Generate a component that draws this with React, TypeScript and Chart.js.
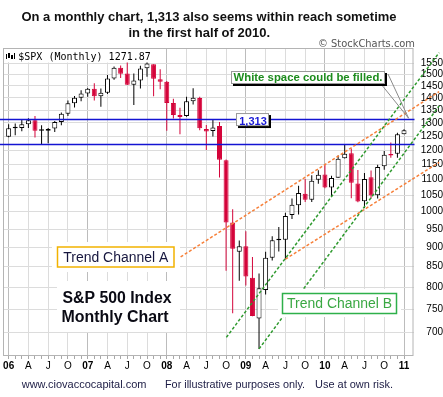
import { useEffect, useRef } from 'react';
import { Chart, registerables } from 'chart.js';

Chart.register(...registerables);

// ---- data (S&P 500 monthly candles, Jan 2006 .. Jan 2011) ----
const months = [
  '2006-01','2006-02','2006-03','2006-04','2006-05','2006-06','2006-07','2006-08','2006-09','2006-10','2006-11','2006-12',
  '2007-01','2007-02','2007-03','2007-04','2007-05','2007-06','2007-07','2007-08','2007-09','2007-10','2007-11','2007-12',
  '2008-01','2008-02','2008-03','2008-04','2008-05','2008-06','2008-07','2008-08','2008-09','2008-10','2008-11','2008-12',
  '2009-01','2009-02','2009-03','2009-04','2009-05','2009-06','2009-07','2009-08','2009-09','2009-10','2009-11','2009-12',
  '2010-01','2010-02','2010-03','2010-04','2010-05','2010-06','2010-07','2010-08','2010-09','2010-10','2010-11','2010-12',
  '2011-01',
];
const opens = [
  1248.29,1280.08,1280.66,1294.81,1310.61,1270.05,1270.06,1278.53,1303.80,1335.82,1377.76,1400.63,
  1418.03,1437.90,1406.80,1420.83,1482.37,1530.62,1504.66,1455.18,1473.96,1527.29,1545.79,1479.37,
  1467.97,1378.60,1330.45,1326.41,1385.97,1399.62,1276.69,1269.42,1287.83,1164.17,968.67,888.61,
  902.99,823.09,729.57,793.59,872.74,923.26,920.82,990.22,1019.52,1054.91,1036.18,1098.89,
  1116.56,1073.89,1105.36,1171.23,1188.58,1087.30,1031.10,1107.53,1049.72,1143.49,1185.71,1186.60,
  1257.62,
];
const highs = [
  1294.90,1297.57,1310.88,1318.16,1326.70,1290.68,1280.42,1307.53,1340.28,1389.45,1407.89,1431.81,
  1441.61,1461.57,1438.89,1498.02,1535.56,1540.56,1555.90,1503.89,1538.74,1576.09,1545.79,1523.57,
  1471.77,1396.02,1359.68,1404.19,1440.24,1404.05,1292.17,1313.15,1303.04,1167.03,1007.51,918.85,
  943.85,875.01,832.98,888.70,930.17,956.23,996.68,1039.47,1080.15,1101.36,1113.69,1130.38,
  1150.45,1112.42,1180.69,1219.80,1205.13,1131.23,1120.95,1129.24,1148.67,1196.14,1227.08,1262.60,
  1276.17,
];
const lows = [
  1245.74,1253.61,1268.42,1280.74,1245.34,1219.29,1224.54,1265.52,1290.93,1327.10,1360.98,1385.93,
  1403.97,1389.42,1363.98,1416.37,1476.70,1484.18,1454.25,1370.60,1439.29,1489.56,1406.10,1435.65,
  1270.05,1316.75,1256.98,1324.35,1373.07,1272.00,1200.44,1248.64,1106.42,839.80,741.02,815.69,
  804.30,734.52,666.79,783.32,866.10,888.86,869.32,978.51,991.97,1029.38,1029.38,1085.89,
  1071.59,1044.50,1105.36,1170.69,1040.78,1028.33,1010.91,1039.70,1039.70,1131.87,1173.00,1173.00,
  1257.62,
];
const closes = [
  1280.08,1280.66,1294.83,1310.61,1270.09,1270.20,1276.66,1303.82,1335.85,1377.94,1400.63,1418.30,
  1438.24,1406.82,1420.86,1482.37,1530.62,1503.35,1455.27,1473.99,1526.75,1549.38,1481.14,1468.36,
  1378.55,1330.63,1322.70,1385.59,1400.38,1280.00,1267.38,1282.83,1166.36,968.75,896.24,903.25,
  825.88,735.09,797.87,872.81,919.14,919.32,987.48,1020.62,1057.08,1036.19,1095.63,1115.10,
  1073.87,1104.49,1169.43,1186.69,1089.41,1030.71,1101.60,1049.33,1141.20,1183.26,1180.55,1257.64,
  1271.87,
];
const priorClose = 1248.29;

const priceTicks = [700,750,800,850,900,950,1000,1050,1100,1150,1200,1250,1300,1350,1400,1450,1500,1550];
const yearLabels = ['06','07','08','09','10','11'];
const quarterLabels = ['', 'A', 'J', 'O'];

// horizontal levels
const levels = [1313, 1219.8];
// trend channels: [startMonthIndex, startValue, endMonthIndex, endValue]
const channelA = [
  [26.1, 875, 65.33, 1426],
  [42, 869.32, 65.33, 1157],
];
const channelB = [
  [33.04, 690, 65.33, 1600],
  [38, 666.79, 65.33, 1367],
];
const calloutTarget = [60.7, 1318];

const titleLines = ['On a monthly chart, 1,313 also seems within reach sometime', 'in the first half of 2010.'];
const symbolLabel = '$SPX (Monthly) 1271.87';
const creditLabel = '\u00A9 StockCharts.com';
const footerParts = ['www.ciovaccocapital.com', 'For illustrative purposes only.', 'Use at own risk.'];
const levelLabel = '1,313';
const calloutLabel = 'White space could be filled.';
const channelALabel = 'Trend Channel A';
const channelBLabel = 'Trend Channel B';
const indexLabel = ['S&P 500 Index', 'Monthly Chart'];

// ---- styling ----
const RED = '#d4043a';
const BLACK = '#000000';
const SANS = '"Liberation Sans", Arial, sans-serif';

const upColor = closes.map((c, i) => c >= (i === 0 ? priorClose : closes[i - 1]));
const strokeCols = upColor.map((u) => (u ? BLACK : RED));
const fillCols = closes.map((c, i) => (c >= opens[i] ? '#ffffff' : strokeCols[i]));

function shadowBox(ctx: CanvasRenderingContext2D, x: number, y: number, w: number, h: number, border: string) {
  ctx.fillStyle = '#000';
  ctx.fillRect(x + 2, y + 2, w, h);
  ctx.fillStyle = '#fff';
  ctx.fillRect(x, y, w, h);
  ctx.strokeStyle = border;
  ctx.lineWidth = 1;
  ctx.strokeRect(x + 0.5, y + 0.5, w - 1, h - 1);
}

function fitText(ctx: CanvasRenderingContext2D, text: string, x: number, y: number, width: number) {
  ctx.fillText(text, x, y, width);
}

const overlay = {
  id: 'overlay',
  afterDraw(chart: any) {
    const ctx: CanvasRenderingContext2D = chart.ctx;
    const xs = chart.scales.x;
    const ys = chart.scales.y;
    const { left, right, top, bottom } = chart.chartArea;
    const px = (v: number) => xs.getPixelForValue(v);
    const py = (v: number) => ys.getPixelForValue(v);
    ctx.save();

    // frame
    ctx.strokeStyle = '#b4b4b4';
    ctx.lineWidth = 1;
    ctx.strokeRect(left + 0.5, top + 0.5, right - left - 1, bottom - top - 1);

    // horizontal levels
    ctx.strokeStyle = '#1414d2';
    ctx.lineWidth = 1.6;
    levels.forEach((v) => {
      const y = py(v);
      ctx.beginPath();
      ctx.moveTo(0, y);
      ctx.lineTo(right + 1, y);
      ctx.stroke();
    });

    // trend channels
    ctx.lineWidth = 1.5;
    ctx.setLineDash([3, 2]);
    const seg = (s: number[]) => {
      ctx.beginPath();
      ctx.moveTo(px(s[0]), py(s[1]));
      ctx.lineTo(px(s[2]), py(s[3]));
      ctx.stroke();
    };
    ctx.strokeStyle = '#f7803a';
    channelA.forEach(seg);
    ctx.strokeStyle = '#2f9a2f';
    channelB.forEach(seg);
    ctx.setLineDash([]);

    // callout pointer lines
    const tx = px(calloutTarget[0]);
    const ty = py(calloutTarget[1]);
    ctx.strokeStyle = '#8a8a8a';
    ctx.lineWidth = 1;
    ctx.beginPath();
    ctx.moveTo(381, 84);
    ctx.lineTo(tx, ty);
    ctx.moveTo(388, 74);
    ctx.lineTo(tx, ty);
    ctx.stroke();

    // white backgrounds behind labels
    ctx.fillStyle = '#ffffff';
    ctx.fillRect(4, 49, 152, 13.5);
    ctx.fillRect(52, 242, 128, 30);
    ctx.fillRect(57, 281, 123, 51);
    ctx.fillRect(278, 289, 123, 28);

    // symbol label
    ctx.fillStyle = '#000';
    ctx.fillRect(6, 54, 1, 5);
    ctx.fillRect(8, 53, 2, 5);
    ctx.fillRect(11, 55, 2, 4);
    ctx.fillRect(14, 53, 1, 6);
    ctx.font = '10px "DejaVu Sans Mono", monospace';
    ctx.textAlign = 'left';
    ctx.textBaseline = 'alphabetic';
    ctx.fillText(symbolLabel, 18.3, 60);

    // 1,313 box
    const yc = py(levels[0]);
    shadowBox(ctx, 236, yc - 6.5, 33, 13, '#9a9a9a');
    ctx.fillStyle = '#1a1ad6';
    ctx.font = `bold 11px ${SANS}`;
    ctx.textAlign = 'center';
    ctx.fillText(levelLabel, 253, yc + 5);

    // white space callout box
    shadowBox(ctx, 231, 71, 154, 13, '#9a9a9a');
    ctx.fillStyle = '#1d8c1d';
    ctx.font = `bold 11.5px ${SANS}`;
    fitText(ctx, calloutLabel, 308, 81.3, 149);

    // trend channel A
    ctx.strokeStyle = '#f2b200';
    ctx.lineWidth = 1.5;
    ctx.strokeRect(57.5, 247, 116.5, 20);
    ctx.fillStyle = '#16163e';
    ctx.font = `14px ${SANS}`;
    fitText(ctx, channelALabel, 115.8, 262, 105);

    // S&P label
    ctx.fillStyle = '#0a0a14';
    ctx.font = `bold 16px ${SANS}`;
    fitText(ctx, indexLabel[0], 117, 303.3, 109);
    fitText(ctx, indexLabel[1], 115, 321.5, 107);

    // trend channel B
    ctx.strokeStyle = '#2eb04a';
    ctx.lineWidth = 1.5;
    ctx.strokeRect(282.5, 293.5, 114, 20);
    ctx.fillStyle = '#3aa843';
    ctx.font = `14px ${SANS}`;
    fitText(ctx, channelBLabel, 339.6, 308.3, 105);

    // titles
    ctx.fillStyle = '#111';
    ctx.font = `bold 13px ${SANS}`;
    fitText(ctx, titleLines[0], 209, 20.8, 375);
    fitText(ctx, titleLines[1], 199.2, 37.4, 142);

    ctx.fillStyle = '#555';
    ctx.font = '10px "DejaVu Sans", sans-serif';
    ctx.textAlign = 'right';
    fitText(ctx, creditLabel, 415, 46.5, 97);

    ctx.fillStyle = '#1c1c44';
    ctx.font = `11px ${SANS}`;
    ctx.textAlign = 'left';
    fitText(ctx, footerParts[0], 21.7, 388.3, 130);
    fitText(ctx, footerParts[1], 165, 388.3, 140);
    fitText(ctx, footerParts[2], 315, 388.3, 78);

    ctx.restore();
  },
};

export default function App() {
  const ref = useRef<HTMLCanvasElement>(null);
  useEffect(() => {
    document.body.style.margin = '0';
    const canvas = ref.current;
    if (!canvas) return;
    const chart = new Chart(canvas, {
      type: 'bar',
      data: {
        datasets: [
          {
            label: 'body',
            data: months.map((_, i) => ({ x: i, y: [opens[i], closes[i]] })) as any,
            backgroundColor: fillCols,
            borderColor: strokeCols,
            borderWidth: 1,
            borderSkipped: false,
            barThickness: 5,
            minBarLength: 1.5,
            grouped: false,
            inflateAmount: 0,
            order: 0,
          } as any,
          {
            label: 'range',
            data: months.map((_, i) => ({ x: i, y: [lows[i], highs[i]] })) as any,
            backgroundColor: strokeCols,
            borderWidth: 0,
            barThickness: 1,
            grouped: false,
            inflateAmount: 0,
            order: 1,
          } as any,
        ],
      },
      options: {
        responsive: false,
        animation: false,
        devicePixelRatio: 1,
        layout: { padding: { left: 3, top: 48, right: 0, bottom: 0 } },
        plugins: { legend: { display: false }, tooltip: { enabled: false } },
        scales: {
          x: {
            type: 'linear',
            bounds: 'data',
            min: -0.343,
            max: 60.93,
            afterBuildTicks: (s: any) => {
              s.ticks = months.map((_, i) => ({ value: i }));
            },
            afterFit: (s: any) => {
              s.height = 41;
              s.paddingLeft = 0;
              s.paddingRight = 0;
            },
            grid: {
              color: (c: any) => {
                const v = c.tick ? c.tick.value : -1;
                if (v % 12 === 0) return '#bcbcbc';
                if (v % 3 === 0) return '#dcdcdc';
                return 'rgba(0,0,0,0)';
              },
              tickColor: '#a8a8a8',
              tickLength: 3,
              drawTicks: true,
              offset: false,
            },
            border: { display: false },
            ticks: {
              autoSkip: false,
              maxRotation: 0,
              minRotation: 0,
              padding: 1,
              color: '#000',
              font: (c: any) => ({
                family: SANS,
                size: 10,
                weight: c.tick && c.tick.value % 12 === 0 ? 'bold' : 'normal',
              }),
              callback: (v: any) => {
                const n = Number(v);
                if (n % 12 === 0) return yearLabels[n / 12];
                if (n % 3 === 0) return quarterLabels[(n % 12) / 3];
                return '';
              },
            },
          },
          y: {
            type: 'logarithmic',
            position: 'right',
            bounds: 'data',
            min: 653,
            max: 1622,
            afterBuildTicks: (s: any) => {
              s.ticks = priceTicks.map((v) => ({ value: v }));
            },
            afterFit: (s: any) => {
              s.width = 29.5;
              s.paddingTop = 0;
              s.paddingBottom = 0;
            },
            grid: { color: '#dcdcdc', drawTicks: false },
            border: { display: false },
            ticks: {
              padding: 6,
              crossAlign: 'far',
              color: '#000',
              font: { family: SANS, size: 10 },
              callback: (v: any) => String(v),
            },
          },
        },
      },
      plugins: [overlay],
    } as any);
    return () => chart.destroy();
  }, []);
  return <canvas ref={ref} width={443} height={397} style={{ display: 'block', width: '443px', height: '397px' }} />;
}
